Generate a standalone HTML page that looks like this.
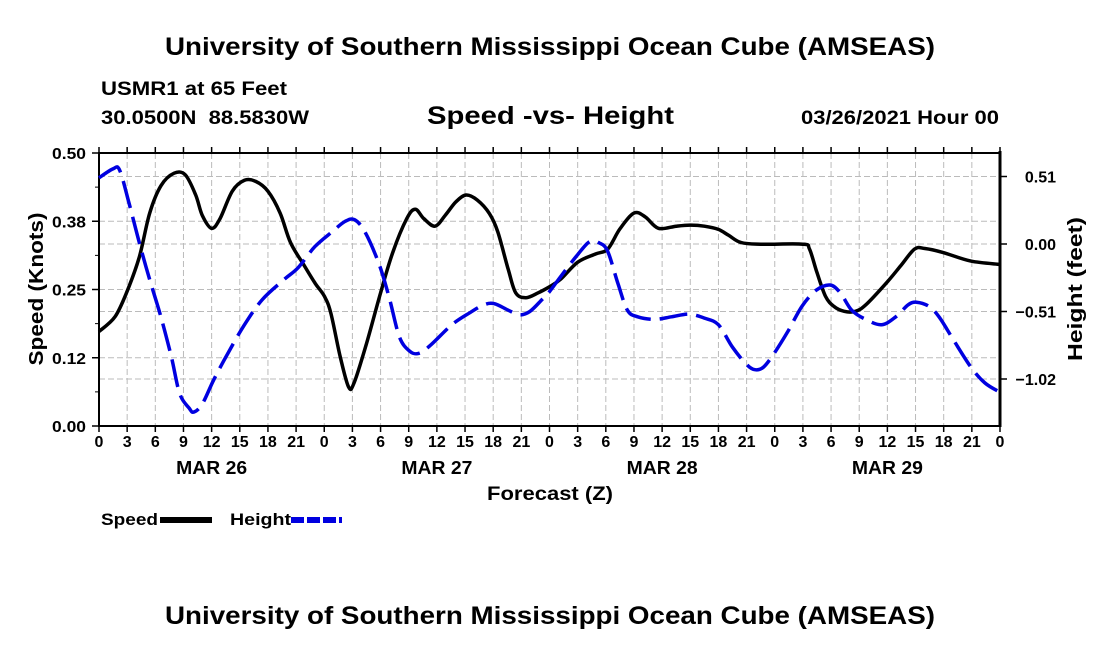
<!DOCTYPE html>
<html><head><meta charset="utf-8">
<style>
html,body{margin:0;padding:0;background:#fff;}
svg{display:block;font-family:"Liberation Sans",Arial,sans-serif;font-weight:bold;}
</style></head>
<body>
<svg id="chart" width="1100" height="650" viewBox="0 0 1100 650">
<text x="550" y="55" text-anchor="middle" font-size="25" textLength="770" lengthAdjust="spacingAndGlyphs">University of Southern Mississippi Ocean Cube (AMSEAS)</text>
<text x="101" y="95" font-size="19" textLength="186" lengthAdjust="spacingAndGlyphs">USMR1 at 65 Feet</text>
<text x="101" y="124" font-size="19" textLength="208" lengthAdjust="spacingAndGlyphs" xml:space="preserve">30.0500N  88.5830W</text>
<text x="427" y="124" font-size="25" textLength="247" lengthAdjust="spacingAndGlyphs">Speed -vs- Height</text>
<text x="801" y="124" font-size="19" textLength="198" lengthAdjust="spacingAndGlyphs">03/26/2021 Hour 00</text>
<g id="grid"></g>
<g id="axes"></g>
<g id="series"></g>
<text transform="translate(43,289) rotate(-90)" text-anchor="middle" font-size="20" textLength="153" lengthAdjust="spacingAndGlyphs">Speed (Knots)</text>
<text transform="translate(1082,289) rotate(-90)" text-anchor="middle" font-size="20" textLength="144" lengthAdjust="spacingAndGlyphs">Height (feet)</text>
<text x="550" y="500" text-anchor="middle" font-size="19" textLength="126" lengthAdjust="spacingAndGlyphs">Forecast (Z)</text>
<g>
<text x="101" y="525" font-size="17" textLength="57" lengthAdjust="spacingAndGlyphs">Speed</text>
<line x1="160" y1="520" x2="212" y2="520" stroke="#000" stroke-width="6"/>
<text x="230" y="525" font-size="17" textLength="61" lengthAdjust="spacingAndGlyphs">Height</text>
<line x1="291" y1="520" x2="342" y2="520" stroke="#0000e0" stroke-width="6" stroke-dasharray="13,3"/>
</g>
<text x="550" y="624" text-anchor="middle" font-size="25" textLength="770" lengthAdjust="spacingAndGlyphs">University of Southern Mississippi Ocean Cube (AMSEAS)</text>
</svg>
<script>
const speedHours = [0,1.7,3,4.3,5.4,6.6,8,9.2,10.3,11,12,12.9,14.2,15.5,16.7,18,19.3,20.4,21.9,23,24,24.7,25.7,26.6,27.2,28.5,30,31.3,32.8,33.7,34.6,35.8,36.9,38,39.1,40.3,41.6,42.5,43.6,44.4,45.5,46.8,48,49.2,51,52.9,54.2,55.5,57,58.2,59.6,61.5,63,64.5,66,67.1,68.4,70.5,75,75.7,76.5,77.4,78.3,79.4,80.6,81.7,83.9,85.4,86.9,88,89.9,92.9,96];
const speedKnots = [0.173,0.20,0.247,0.31,0.39,0.44,0.463,0.46,0.423,0.386,0.362,0.38,0.43,0.45,0.448,0.43,0.39,0.336,0.293,0.262,0.238,0.207,0.127,0.071,0.08,0.151,0.244,0.318,0.38,0.397,0.38,0.366,0.386,0.41,0.423,0.414,0.389,0.355,0.287,0.244,0.235,0.244,0.255,0.269,0.30,0.315,0.324,0.361,0.39,0.383,0.362,0.366,0.368,0.366,0.36,0.349,0.336,0.333,0.333,0.324,0.281,0.238,0.219,0.21,0.21,0.222,0.262,0.293,0.324,0.325,0.318,0.302,0.296];
const heightHours = [0,1.5,2.2,3.2,4.3,5.4,6.6,7.7,8.6,9.6,10.1,11,12.2,13.7,15.5,17.4,19.7,21.2,23,24.9,26.2,27.2,28.3,29.8,30.9,32,33.1,34.1,35.4,37.6,39.5,41,42.1,43.6,44.8,45.9,47.2,48,49.2,51,52.3,53.3,54.2,55.3,56.3,57.4,59.2,61,62.9,64.5,66,67.5,69,69.9,70.8,71.9,73.4,74.9,76.4,77.9,79,80.2,81.7,83.4,84.9,86.2,87.1,88.4,89.5,91,92.9,94.4,96];
const heightFeet = [0.50,0.568,0.558,0.31,0.008,-0.27,-0.55,-0.85,-1.13,-1.24,-1.27,-1.21,-1.03,-0.83,-0.61,-0.42,-0.27,-0.18,-0.02,0.096,0.17,0.184,0.096,-0.144,-0.40,-0.70,-0.81,-0.826,-0.76,-0.61,-0.52,-0.46,-0.45,-0.50,-0.535,-0.51,-0.42,-0.36,-0.245,-0.08,0.02,0.008,-0.055,-0.30,-0.50,-0.55,-0.57,-0.55,-0.53,-0.56,-0.61,-0.78,-0.91,-0.95,-0.93,-0.83,-0.66,-0.47,-0.35,-0.31,-0.37,-0.50,-0.57,-0.61,-0.55,-0.46,-0.44,-0.47,-0.55,-0.72,-0.93,-1.05,-1.12];
const xTickLabels = ["0","3","6","9","12","15","18","21"];
const dayLabels = ["MAR 26","MAR 27","MAR 28","MAR 29"];
const leftTickValues = [0,0.125,0.25,0.375,0.5];
const leftTickLabels = ["0.00","0.12","0.25","0.38","0.50"];
const rightTickValues = [0.51,0,-0.51,-1.02];
const rightTickLabels = ["0.51","0.00","\u22120.51","\u22121.02"];

const NS="http://www.w3.org/2000/svg";
const PL=99, PR=1000, PT=153, PB=426, HMAX=96;
const HTOP=0.51*(244-PT)/67.5, HBOT=-0.51*(PB-244)/67.5;
function xs(h){return PL+(PR-PL)*h/HMAX;}
function ysL(v){return PB-(PB-PT)*v/0.5;}
function ysR(v){return PB-(PB-PT)*(v-HBOT)/(HTOP-HBOT);}
function mk(tag,attrs,parent){const e=document.createElementNS(NS,tag);for(const k in attrs)e.setAttribute(k,attrs[k]);parent.appendChild(e);return e;}
const grid=document.getElementById('grid'),axes=document.getElementById('axes'),series=document.getElementById('series');

for(let h=3;h<HMAX;h+=3){
  const l=mk('line',{x1:xs(h),y1:PT,x2:xs(h),y2:PB,stroke:'#bbb','stroke-width':1,'stroke-dasharray':'6,3'},grid);
  
  
}
leftTickValues.slice(1,-1).forEach(v=>{
  const l=mk('line',{x1:PL,y1:ysL(v),x2:PR,y2:ysL(v),stroke:'#bbb','stroke-width':1,'stroke-dasharray':'6,3'},grid);
  
  
});
rightTickValues.forEach(v=>{
  const l=mk('line',{x1:PL,y1:ysR(v),x2:PR,y2:ysR(v),stroke:'#bbb','stroke-width':1,'stroke-dasharray':'6,3'},grid);
  
  
});

const fr=mk('rect',{x:PL,y:PT,width:PR-PL,height:PB-PT,fill:'none',stroke:'#000','stroke-width':2},axes);


const ra=mk('line',{x1:PR,y1:PT-2,x2:PR,y2:PB+1,stroke:'#000','stroke-width':3},axes);



for(let i=0;i<=32;i++){
  const h=i*3,x=xs(h);
  mk('line',{x1:x,y1:PB,x2:x,y2:PB+6,stroke:'#000','stroke-width':1.5},axes);
  mk('line',{x1:x,y1:PT,x2:x,y2:PT-6,stroke:'#000','stroke-width':1.5},axes);
  const t=mk('text',{x:x,y:PB+21,'text-anchor':'middle','font-size':16},axes);
  t.textContent=xTickLabels[i%8];
  
  
}
dayLabels.forEach((d,i)=>{
  const t=mk('text',{x:xs(12+24*i),y:PB+48,'text-anchor':'middle','font-size':18,textLength:71,lengthAdjust:'spacingAndGlyphs'},axes);
  t.textContent=d;
  
  
});
for(let v=0.0625;v<0.5;v+=0.125){
  mk('line',{x1:PL,y1:ysL(v),x2:PL-4,y2:ysL(v),stroke:'#000','stroke-width':1},axes);
}
leftTickValues.forEach((v,i)=>{
  mk('line',{x1:PL,y1:ysL(v),x2:PL-7,y2:ysL(v),stroke:'#000','stroke-width':1.5},axes);
  const t=mk('text',{x:PL-13,y:ysL(v)+6,'text-anchor':'end','font-size':16,textLength:34,lengthAdjust:'spacingAndGlyphs'},axes);
  t.textContent=leftTickLabels[i];
  
  
});
rightTickValues.forEach((v,i)=>{
  mk('line',{x1:PR,y1:ysR(v),x2:PR+7,y2:ysR(v),stroke:'#000','stroke-width':1.5},axes);
  const t=mk('text',{x:1056,y:ysR(v)+6,'text-anchor':'end','font-size':16},axes);
  t.textContent=rightTickLabels[i];
  
  
});

function smoothPath(pts){
  let d='M'+pts[0][0].toFixed(1)+','+pts[0][1].toFixed(1);
  for(let i=0;i<pts.length-1;i++){
    const p0=pts[Math.max(0,i-1)],p1=pts[i],p2=pts[i+1],p3=pts[Math.min(pts.length-1,i+2)];
    const c1=[p1[0]+(p2[0]-p0[0])/6,p1[1]+(p2[1]-p0[1])/6];
    const c2=[p2[0]-(p3[0]-p1[0])/6,p2[1]-(p3[1]-p1[1])/6];
    d+=' C'+c1.map(v=>v.toFixed(1))+' '+c2.map(v=>v.toFixed(1))+' '+p2.map(v=>v.toFixed(1));
  }
  return d;
}
const sp=mk('path',{d:smoothPath(speedHours.map((h,i)=>[xs(h),ysL(speedKnots[i])])),fill:'none',stroke:'#000','stroke-width':3.5,'stroke-linejoin':'round'},series);


const hp=mk('path',{d:smoothPath(heightHours.map((h,i)=>[xs(h),ysR(heightFeet[i])])),fill:'none',stroke:'#0000e0','stroke-width':3.5,'stroke-dasharray':'28,9'},series);


</script>
</body></html>
